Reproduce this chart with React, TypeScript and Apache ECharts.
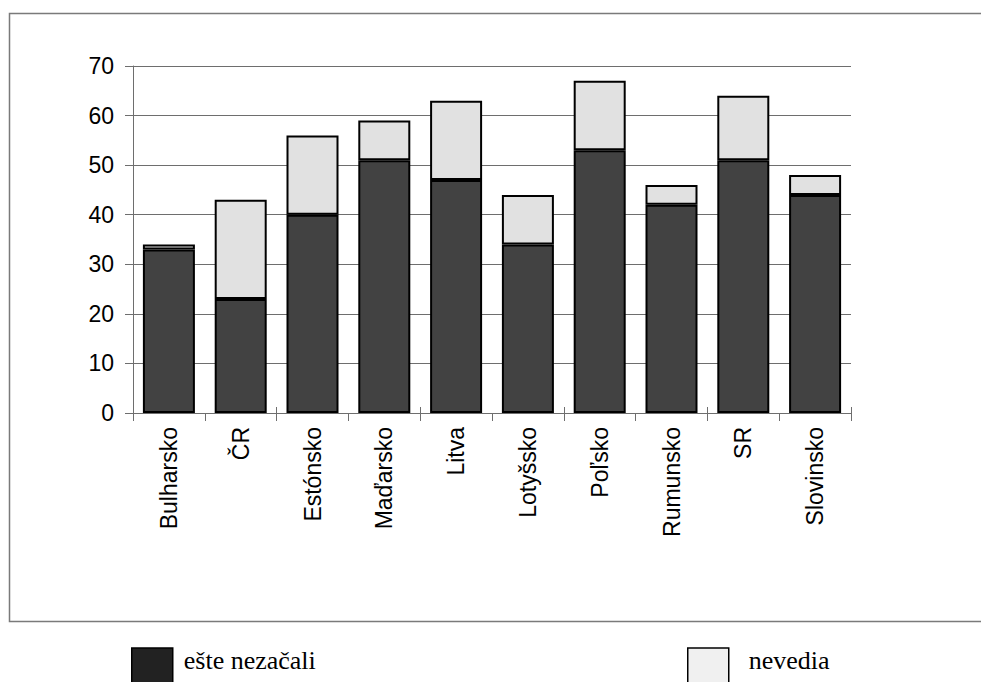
import React, { useEffect, useRef } from "react";
import * as echarts from "echarts";

const categories = ["Bulharsko", "ČR", "Estónsko", "Maďarsko", "Litva", "Lotyšsko", "Poľsko", "Rumunsko", "SR", "Slovinsko"];
const esteNezacali = [33, 23, 40, 51, 47, 34, 53, 42, 51, 44];
const nevedia = [1, 20, 16, 8, 16, 10, 14, 4, 13, 4];
const seriesNames = ["ešte nezačali", "nevedia"];
const yTicks = { min: 0, max: 70, interval: 10 };

export default function App() {
  const ref = useRef<HTMLDivElement>(null);
  useEffect(() => {
    if (!ref.current) return;
    const chart = echarts.init(ref.current, null, { renderer: "svg" });
    const sans = "Liberation Sans";
    const serif = "Liberation Serif";
    const gridCol = "#6e6e6e";
    const legendText = (padLeft: number) => ({
      fontFamily: serif,
      fontSize: 26,
      color: "#000",
      rich: {
        a: { fontFamily: serif, fontSize: 26, color: "#000", lineHeight: 30, padding: [0, 0, 0, padLeft] },
        b: { fontSize: 2, lineHeight: 16 },
      },
    });
    chart.setOption({
      animation: false,
      backgroundColor: "#ffffff",
      graphic: [
        {
          type: "rect",
          shape: { x: 9.5, y: 13.5, width: 1000, height: 608 },
          style: { fill: "none", stroke: "#7a7a7a", lineWidth: 1.5 },
          silent: true,
        },
      ],
      grid: { left: 133, right: 130, top: 66, bottom: 269, containLabel: false },
      legend: [
        {
          left: 131,
          top: 647,
          padding: 0,
          itemWidth: 41,
          itemHeight: 40,
          icon: "rect",
          formatter: "{a|{name}}\n{b| }",
          data: [{ name: seriesNames[0], itemStyle: { color: "#222222", borderColor: "#000", borderWidth: 1.5 } }],
          textStyle: legendText(6),
        },
        {
          left: 687,
          top: 647,
          padding: 0,
          itemWidth: 41,
          itemHeight: 40,
          icon: "rect",
          formatter: "{a|{name}}\n{b| }",
          data: [{ name: seriesNames[1], itemStyle: { color: "#f0f0f0", borderColor: "#000", borderWidth: 1.5 } }],
          textStyle: legendText(15),
        },
      ],
      xAxis: [
        {
          type: "category",
          data: categories,
          position: "bottom",
          axisLine: { show: true, lineStyle: { color: gridCol, width: 1 } },
          axisTick: { show: true, inside: false, length: 8, lineStyle: { color: gridCol } },
          axisLabel: { rotate: 90, fontFamily: sans, fontSize: 23, color: "#000", margin: 14 },
          splitLine: { show: false },
        },
        {
          type: "category",
          data: categories,
          position: "bottom",
          axisLine: { show: false },
          axisTick: { show: true, inside: true, length: 6, lineStyle: { color: gridCol } },
          axisLabel: { show: false },
          splitLine: { show: false },
        },
      ],
      yAxis: [
        {
          type: "value",
          min: yTicks.min,
          max: yTicks.max,
          interval: yTicks.interval,
          position: "left",
          axisLine: { show: true, lineStyle: { color: gridCol, width: 1 } },
          axisTick: { show: true, inside: false, length: 8, lineStyle: { color: gridCol } },
          axisLabel: { fontFamily: sans, fontSize: 23, color: "#000", margin: 19 },
          splitLine: { show: true, lineStyle: { color: gridCol, width: 1 } },
        },
        {
          type: "value",
          min: yTicks.min,
          max: yTicks.max,
          interval: yTicks.interval,
          position: "left",
          axisLine: { show: false },
          axisTick: { show: true, inside: true, length: 8, lineStyle: { color: gridCol } },
          axisLabel: { show: false },
          splitLine: { show: false },
        },
      ],
      series: [
        {
          name: seriesNames[0],
          type: "bar",
          stack: "total",
          data: esteNezacali,
          barWidth: 52,
          itemStyle: { color: "#424242", borderColor: "#000", borderWidth: 2 },
        },
        {
          name: seriesNames[1],
          type: "bar",
          stack: "total",
          data: nevedia,
          barWidth: 52,
          itemStyle: { color: "#e1e1e1", borderColor: "#000", borderWidth: 2 },
        },
      ],
    });
    return () => chart.dispose();
  }, []);
  return (
    <div
      ref={ref}
      style={{ position: "fixed", left: 0, top: 0, width: 981, height: 682, background: "#fff" }}
    />
  );
}
